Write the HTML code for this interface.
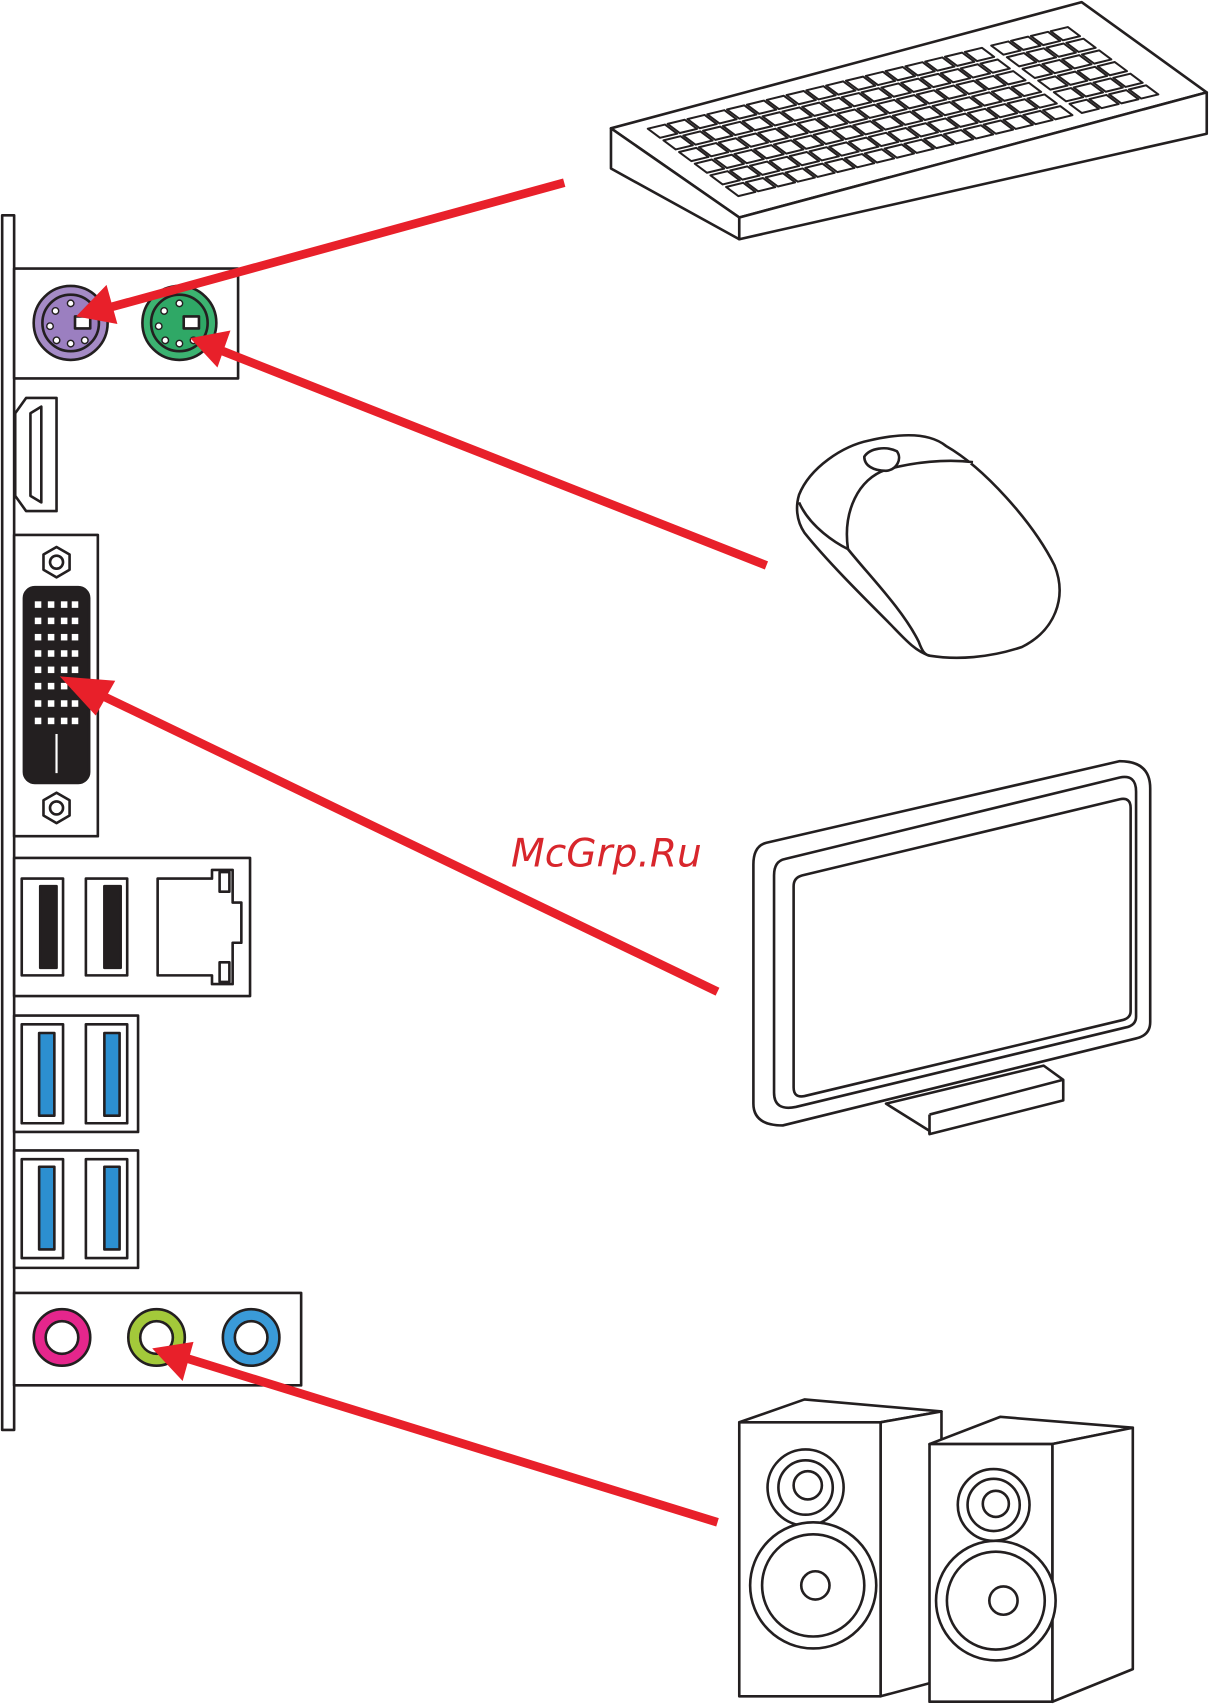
<!DOCTYPE html>
<html><head><meta charset="utf-8"><style>html,body{margin:0;padding:0;background:#fff}svg{display:block}</style></head>
<body>
<svg width="1210" height="1705" viewBox="0 0 1113 1568" preserveAspectRatio="none" xmlns="http://www.w3.org/2000/svg">
<g fill="#fff" stroke="#231f20" stroke-width="2.4" stroke-linejoin="round">
<!-- left panel -->
<rect x="2" y="198" width="11" height="1117"/>
<rect x="13" y="247" width="206" height="101"/>
<circle cx="65" cy="297" r="34" fill="#a58bc6"/>
<circle cx="65" cy="297" r="26" fill="#9b7fc0"/>
<rect x="69" y="291" width="14" height="11"/>
<g fill="#fff" stroke-width="1.3"><circle cx="46" cy="300" r="3"/><circle cx="51" cy="286" r="3"/><circle cx="65" cy="279" r="3"/><circle cx="52" cy="313" r="3"/><circle cx="65" cy="316" r="3"/><circle cx="78" cy="313" r="3"/></g>
<circle cx="165" cy="297" r="34" fill="#3cb371"/>
<circle cx="165" cy="297" r="26" fill="#2fa866"/>
<rect x="169" y="291" width="14" height="11"/>
<g fill="#fff" stroke-width="1.3"><circle cx="146" cy="300" r="3"/><circle cx="151" cy="286" r="3"/><circle cx="165" cy="279" r="3"/><circle cx="152" cy="313" r="3"/><circle cx="165" cy="316" r="3"/><circle cx="178" cy="313" r="3"/></g>
<!-- HDMI -->
<path d="M14 380 L24 366 L52 366 L52 470 L24 470 L14 456 Z"/>
<path d="M28 380 L38 374 L38 462 L28 456 Z" fill="#fff"/>
<!-- DVI -->
<rect x="13" y="492" width="77" height="277"/>
<polygon points="52,503 64,510 64,524 52,531 40,524 40,510"/><circle cx="52" cy="517" r="6"/>
<polygon points="52,729 64,736 64,750 52,757 40,750 40,736"/><circle cx="52" cy="743" r="6"/>
<rect x="22" y="540" width="60" height="180" rx="10" fill="#231f20"/>
<g fill="#fff" stroke="none">
<rect x="32" y="553" width="6" height="6"/><rect x="44" y="553" width="6" height="6"/><rect x="56" y="553" width="6" height="6"/><rect x="66" y="553" width="6" height="6"/>
<rect x="32" y="568" width="6" height="6"/><rect x="44" y="568" width="6" height="6"/><rect x="56" y="568" width="6" height="6"/><rect x="66" y="568" width="6" height="6"/>
<rect x="32" y="583" width="6" height="6"/><rect x="44" y="583" width="6" height="6"/><rect x="56" y="583" width="6" height="6"/><rect x="66" y="583" width="6" height="6"/>
<rect x="32" y="598" width="6" height="6"/><rect x="44" y="598" width="6" height="6"/><rect x="56" y="598" width="6" height="6"/><rect x="66" y="598" width="6" height="6"/>
<rect x="32" y="613" width="6" height="6"/><rect x="44" y="613" width="6" height="6"/><rect x="56" y="613" width="6" height="6"/><rect x="66" y="613" width="6" height="6"/>
<rect x="32" y="628" width="6" height="6"/><rect x="44" y="628" width="6" height="6"/><rect x="56" y="628" width="6" height="6"/><rect x="66" y="628" width="6" height="6"/>
<rect x="32" y="644" width="6" height="6"/><rect x="44" y="644" width="6" height="6"/><rect x="56" y="644" width="6" height="6"/><rect x="66" y="644" width="6" height="6"/>
<rect x="32" y="660" width="6" height="6"/><rect x="44" y="660" width="6" height="6"/><rect x="56" y="660" width="6" height="6"/><rect x="66" y="660" width="6" height="6"/>
<rect x="51" y="675" width="2" height="36"/>
</g>
<!-- USB + LAN -->
<rect x="13" y="789" width="217" height="127"/>
<rect x="20" y="808" width="38" height="89"/><rect x="37" y="815" width="15" height="75" fill="#231f20"/>
<rect x="79" y="808" width="38" height="89"/><rect x="96" y="815" width="15" height="75" fill="#231f20"/>
<path d="M145 808 L195 808 L195 800 L214 800 L214 830 L222 830 L222 867 L214 867 L214 905 L195 905 L195 897 L145 897 Z"/>
<rect x="202" y="802" width="9" height="18"/><rect x="202" y="885" width="9" height="18"/>
<!-- USB3 -->
<rect x="13" y="934" width="114" height="107"/>
<rect x="20" y="942" width="38" height="91"/><rect x="36" y="950" width="14" height="76" fill="#2c8fd0"/>
<rect x="79" y="942" width="38" height="91"/><rect x="96" y="950" width="14" height="76" fill="#2c8fd0"/>
<rect x="13" y="1058" width="114" height="108"/>
<rect x="20" y="1066" width="38" height="91"/><rect x="36" y="1073" width="14" height="76" fill="#2c8fd0"/>
<rect x="79" y="1066" width="38" height="91"/><rect x="96" y="1073" width="14" height="76" fill="#2c8fd0"/>
<!-- Audio -->
<rect x="13" y="1189" width="264" height="85"/>
<circle cx="57" cy="1230" r="26" fill="#e5268c"/><circle cx="57" cy="1230" r="15"/>
<circle cx="144" cy="1230" r="26" fill="#a3c93a"/><circle cx="144" cy="1230" r="15"/>
<circle cx="231" cy="1230" r="26" fill="#3a9ad8"/><circle cx="231" cy="1230" r="15"/>

<!-- keyboard -->
<polygon points="562,118 995,2 1110,85 680,200"/>
<polygon points="562,118 680,200 680,220 562,155"/>
<polygon points="680,200 1110,85 1110,123 680,220"/>
<g transform="matrix(4.05,-0.98,0.9,0.67,590,118)" stroke-width="2">
<g id="row"><rect x="1" y="2" width="3.9" height="12.5" vector-effect="non-scaling-stroke"/><rect x="5.5" y="2" width="3.9" height="12.5" vector-effect="non-scaling-stroke"/><rect x="10" y="2" width="3.9" height="12.5" vector-effect="non-scaling-stroke"/><rect x="14.5" y="2" width="3.9" height="12.5" vector-effect="non-scaling-stroke"/><rect x="19" y="2" width="3.9" height="12.5" vector-effect="non-scaling-stroke"/><rect x="23.5" y="2" width="3.9" height="12.5" vector-effect="non-scaling-stroke"/><rect x="28" y="2" width="3.9" height="12.5" vector-effect="non-scaling-stroke"/><rect x="32.5" y="2" width="3.9" height="12.5" vector-effect="non-scaling-stroke"/><rect x="37" y="2" width="3.9" height="12.5" vector-effect="non-scaling-stroke"/><rect x="41.5" y="2" width="3.9" height="12.5" vector-effect="non-scaling-stroke"/><rect x="46" y="2" width="3.9" height="12.5" vector-effect="non-scaling-stroke"/><rect x="50.5" y="2" width="3.9" height="12.5" vector-effect="non-scaling-stroke"/><rect x="55" y="2" width="3.9" height="12.5" vector-effect="non-scaling-stroke"/><rect x="59.5" y="2" width="3.9" height="12.5" vector-effect="non-scaling-stroke"/><rect x="64" y="2" width="3.9" height="12.5" vector-effect="non-scaling-stroke"/><rect x="68.5" y="2" width="3.9" height="12.5" vector-effect="non-scaling-stroke"/><rect x="73" y="2" width="3.9" height="12.5" vector-effect="non-scaling-stroke"/><rect x="79" y="2" width="3.9" height="12.5" vector-effect="non-scaling-stroke"/><rect x="83.5" y="2" width="3.9" height="12.5" vector-effect="non-scaling-stroke"/><rect x="88" y="2" width="3.9" height="12.5" vector-effect="non-scaling-stroke"/><rect x="92.5" y="2" width="3.9" height="12.5" vector-effect="non-scaling-stroke"/></g>
<use href="#row" y="16"/><use href="#row" y="32"/><use href="#row" y="48"/><use href="#row" y="64"/><use href="#row" y="80"/>
</g>

<!-- mouse -->
<path d="M735 455 C745 430 775 410 800 405 C830 398 855 398 870 410 C905 430 950 480 970 520 C982 550 970 580 940 595 C910 605 880 607 855 603 C840 598 830 585 815 570 C790 545 760 515 740 490 C732 478 732 465 735 455 Z"/>
<path d="M735 462 C745 485 770 500 780 505"/>
<path d="M780 505 C775 470 790 440 815 432 C840 425 870 422 895 425"/>
<path d="M780 505 C800 530 830 560 845 590 C848 598 850 602 855 603"/>
<path d="M795 420 C800 412 815 410 825 415 C830 422 825 432 815 433 C803 433 795 428 795 420 Z"/>

<!-- monitor -->
<path d="M855 1040 L815 1015 L960 980 L978 993 L978 1012 L855 1043 Z"/>
<path d="M855 1025 L978 993"/><path d="M855 1025 L855 1043"/>
<path d="M705 775 L1030 700 Q1058 700 1058 725 L1058 940 Q1058 952 1045 955 L720 1035 Q693 1035 693 1015 L693 795 Q693 778 705 775 Z"/>
<path d="M722 790 L1030 715 Q1045 712 1045 728 L1045 935 Q1045 943 1035 945 L732 1018 Q712 1022 712 1005 L712 805 Q712 792 722 790 Z"/>
<path d="M738 805 L1030 735 Q1040 733 1040 743 L1040 930 Q1040 936 1033 938 L740 1008 Q730 1010 730 1000 L730 815 Q730 807 738 805 Z"/>

<!-- speakers -->
<polygon points="680,1308 740,1287 866,1298 810,1308"/>
<polygon points="810,1308 866,1298 866,1545 810,1560"/>
<rect x="680" y="1308" width="130" height="252"/>
<circle cx="741" cy="1368" r="35"/><circle cx="741" cy="1368" r="25"/><circle cx="743" cy="1366" r="13"/>
<circle cx="748" cy="1458" r="58"/><circle cx="748" cy="1458" r="47"/><circle cx="750" cy="1458" r="13"/>
<polygon points="855,1328 920,1303 1042,1313 968,1328"/>
<polygon points="968,1328 1042,1313 1042,1535 968,1565"/>
<rect x="855" y="1328" width="113" height="237"/>
<circle cx="914" cy="1384" r="33"/><circle cx="914" cy="1384" r="24"/><circle cx="916" cy="1383" r="12"/>
<circle cx="916" cy="1472" r="55"/><circle cx="916" cy="1472" r="45"/><circle cx="923" cy="1472" r="13"/>
</g>

<!-- arrows -->
<g stroke="#e8202a" stroke-width="8" fill="#e8202a">
<line x1="519" y1="168" x2="100" y2="283"/>
<polygon points="70,291 98,262 108,298" stroke="none"/>
<line x1="705" y1="520" x2="205" y2="323"/>
<polygon points="175,311 212,304 200,338" stroke="none"/>
<line x1="660" y1="912" x2="82" y2="634"/>
<polygon points="55,622 106,626 88,658" stroke="none"/>
<line x1="660" y1="1400" x2="168" y2="1248"/>
<polygon points="140,1240 178,1234 168,1270" stroke="none"/>
</g>
<text x="470" y="797" font-family="DejaVu Sans, sans-serif" font-style="oblique" font-size="36" fill="#d8262c">McGrp.Ru</text>
</svg>
</body></html>
